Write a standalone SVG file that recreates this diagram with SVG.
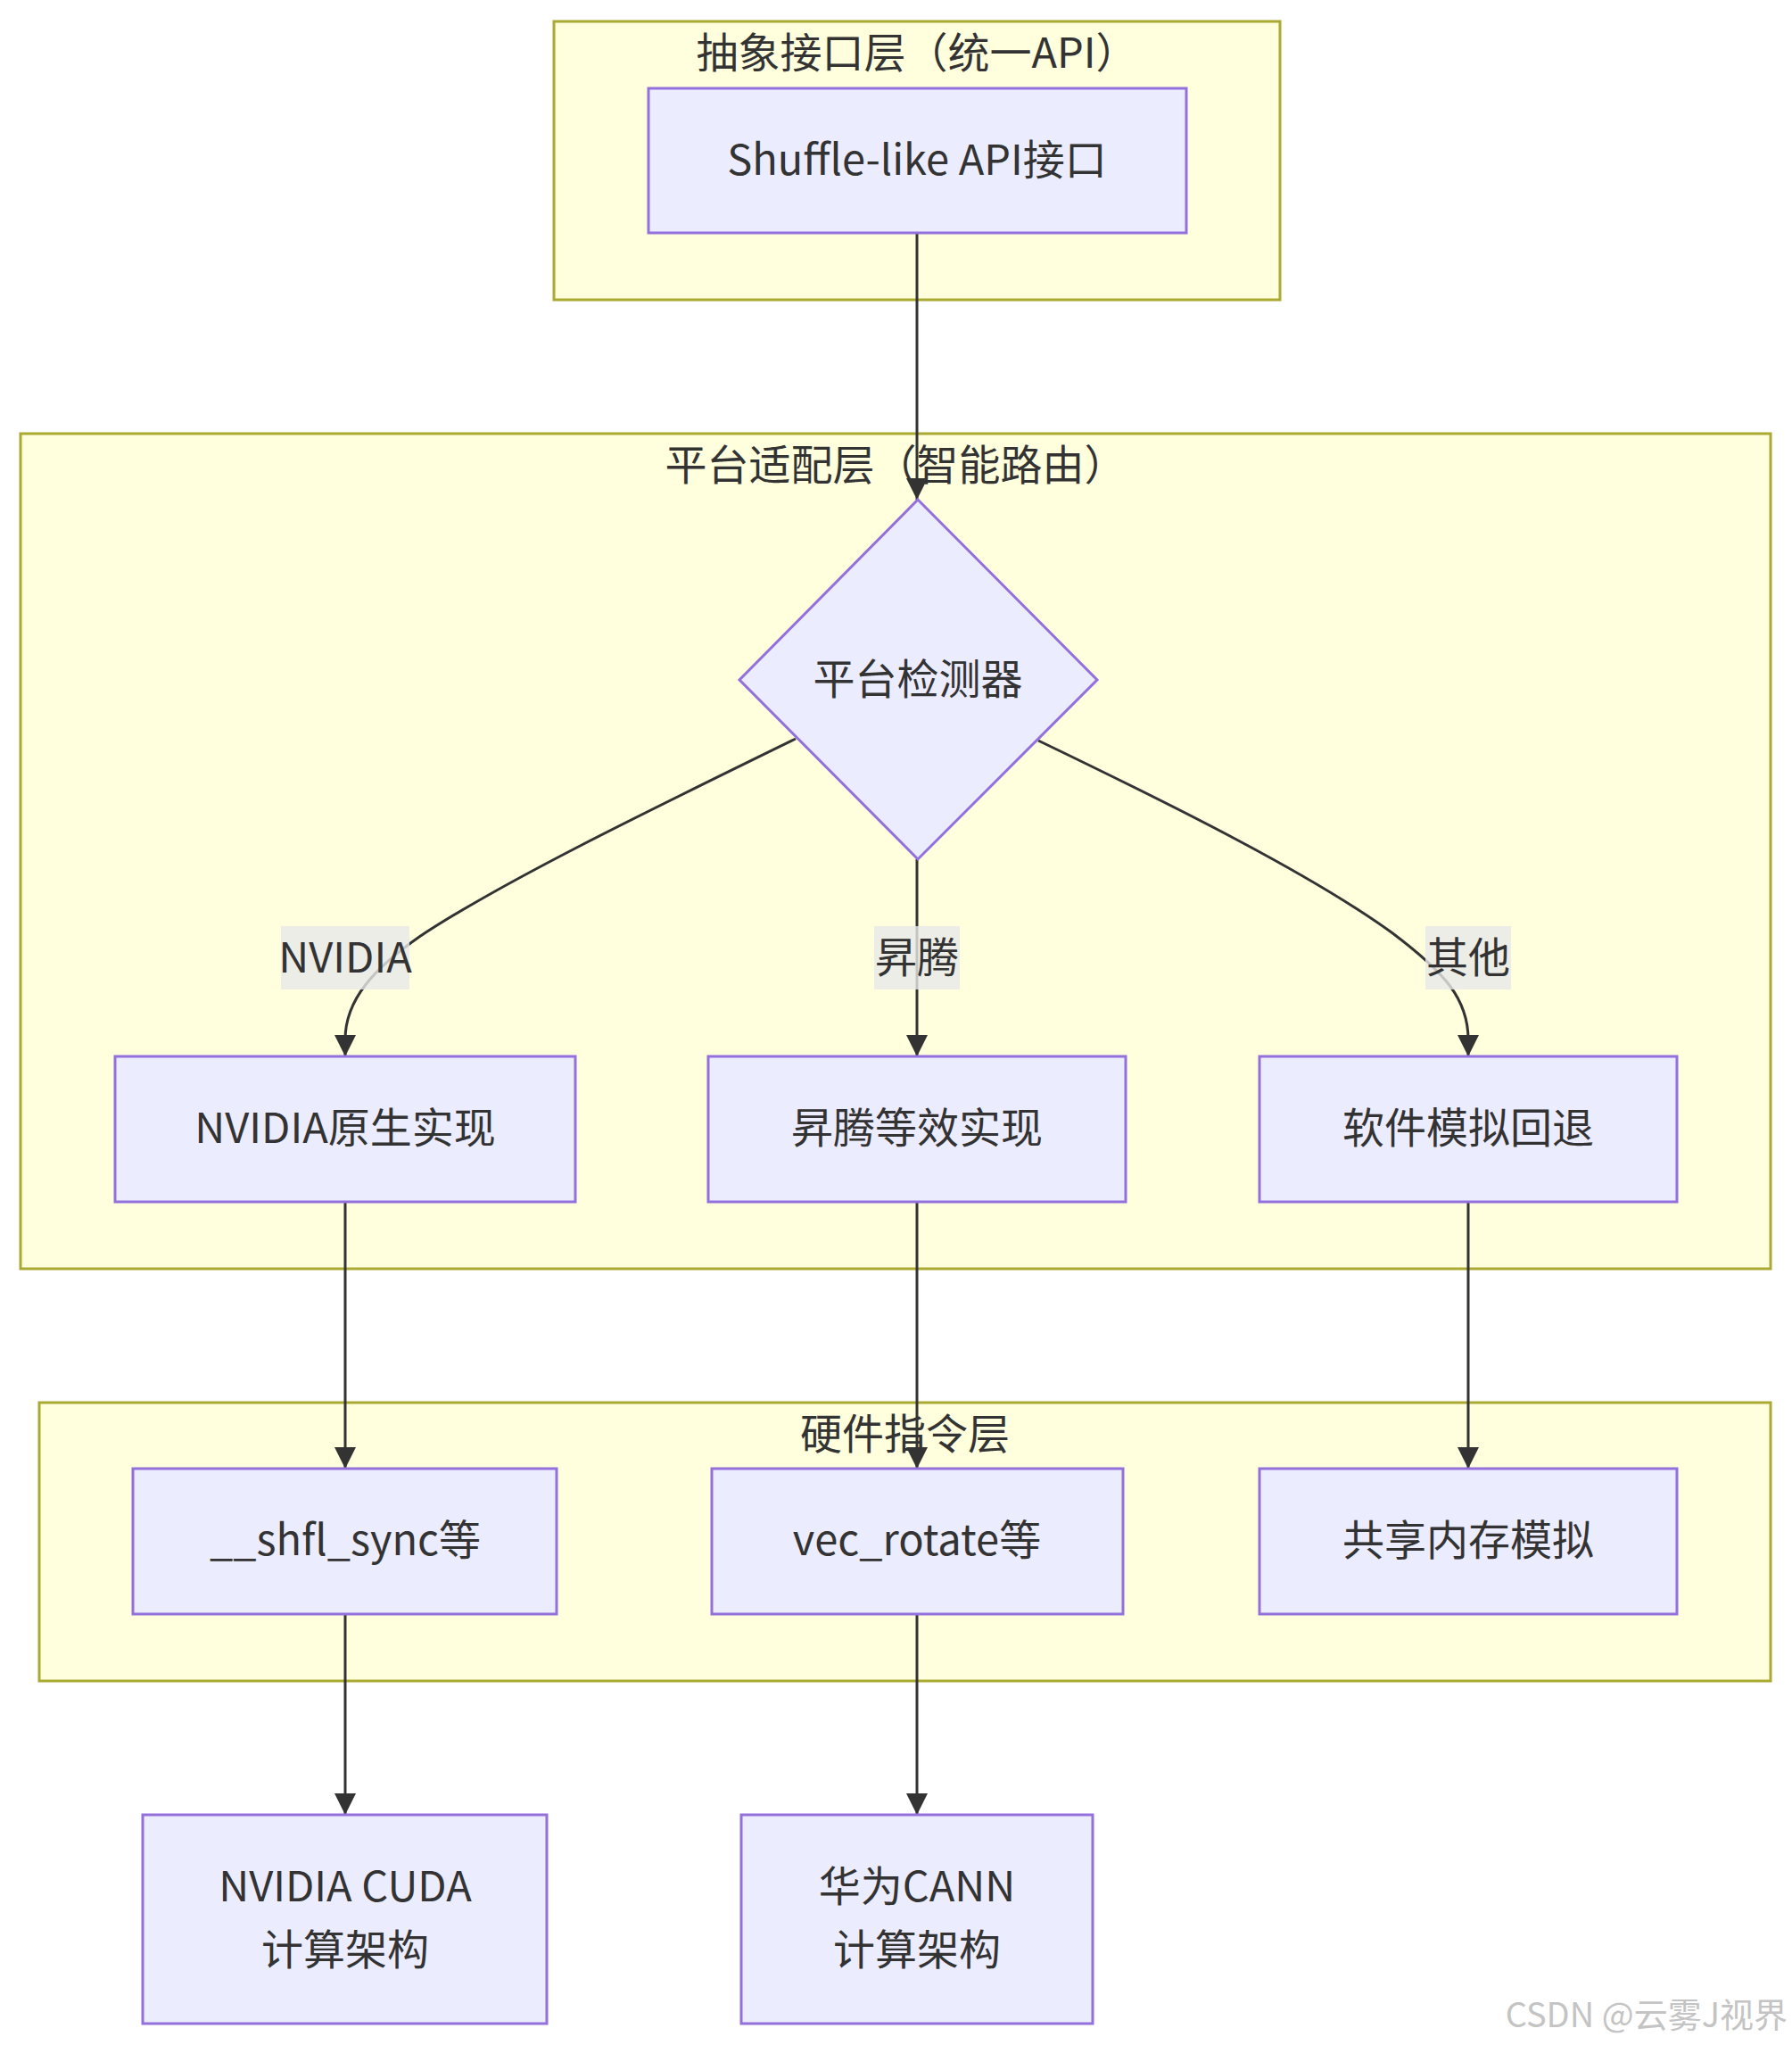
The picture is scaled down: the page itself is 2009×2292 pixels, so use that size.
<svg xmlns="http://www.w3.org/2000/svg" width="2009" height="2292" viewBox="0 0 2009 2292">
<style>
.cluster{fill:#ffffde;stroke:#aaaa33;stroke-width:3}
.node{fill:#ececff;stroke:#9370db;stroke-width:3}
.t{font-family:"Noto Sans CJK SC","Noto Sans",sans-serif;font-size:47px;fill:#333;text-anchor:middle;dominant-baseline:central}
.edge{fill:none;stroke:#333;stroke-width:3}
.lbl{fill:rgba(232,232,232,0.8)}
.wm{font-family:"Noto Sans CJK SC","Liberation Sans",sans-serif;font-size:38px;fill:#c4c4c4;text-anchor:end;dominant-baseline:central}
</style>
<defs>
<marker id="arrow" viewBox="0 0 10 10" refX="10" refY="5" markerUnits="userSpaceOnUse" markerWidth="24" markerHeight="24" orient="auto">
<path d="M0,0 L10,5 L0,10 z" fill="#333"/>
</marker>
</defs>
<rect width="2009" height="2292" fill="#ffffff"/>
<g id="cluster-abstract">
<rect class="cluster" x="621" y="24" width="814" height="312"/>
<text class="t" x="1028" y="55">抽象接口层（统一API）</text>
</g>
<g id="cluster-platform">
<rect class="cluster" x="23" y="486" width="1962" height="936"/>
<text class="t" x="1004" y="517">平台适配层（智能路由）</text>
</g>
<g id="cluster-hardware">
<rect class="cluster" x="44" y="1572" width="1941" height="312"/>
<text class="t" x="1014.5" y="1603">硬件指令层</text>
</g>
<g id="connectors">
<path class="edge" d="M1028,261 L1028,560" marker-end="url(#arrow)"/>
<path class="edge" d="M892,828 C720,912 560,990 470,1050 C420,1085 387,1120 387,1165 L387,1184" marker-end="url(#arrow)"/>
<path class="edge" d="M1028,963 L1028,1184" marker-end="url(#arrow)"/>
<path class="edge" d="M1164,830 C1320,905 1470,980 1560,1045 C1620,1090 1646,1120 1646,1165 L1646,1184" marker-end="url(#arrow)"/>
<path class="edge" d="M387,1347 L387,1646" marker-end="url(#arrow)"/>
<path class="edge" d="M1028,1347 L1028,1646" marker-end="url(#arrow)"/>
<path class="edge" d="M1646,1347 L1646,1646" marker-end="url(#arrow)"/>
<path class="edge" d="M387,1809 L387,2034" marker-end="url(#arrow)"/>
<path class="edge" d="M1028,1809 L1028,2034" marker-end="url(#arrow)"/>
<g id="label-nvidia">
<rect class="lbl" x="315" y="1038" width="144" height="71"/>
<text class="t" x="387" y="1069">NVIDIA</text>
</g>
<g id="label-ascend">
<rect class="lbl" x="980" y="1038" width="96" height="71"/>
<text class="t" x="1028" y="1069">昇腾</text>
</g>
<g id="label-other">
<rect class="lbl" x="1598" y="1038" width="96" height="71"/>
<text class="t" x="1646" y="1069">其他</text>
</g>
</g>
<g id="node-api">
<rect class="node" x="727" y="99" width="603" height="162"/>
<text class="t" x="1028" y="175">Shuffle-like API接口</text>
</g>
<g id="node-detector">
<polygon class="node" points="1029,560 1230,762 1029,963 829,762"/>
<text class="t" x="1029" y="757">平台检测器</text>
</g>
<g id="node-nvidia-impl">
<rect class="node" x="129" y="1184" width="516" height="163"/>
<text class="t" x="387" y="1260.5">NVIDIA原生实现</text>
</g>
<g id="node-ascend-impl">
<rect class="node" x="794" y="1184" width="468" height="163"/>
<text class="t" x="1028" y="1260.5">昇腾等效实现</text>
</g>
<g id="node-soft-impl">
<rect class="node" x="1412" y="1184" width="468" height="163"/>
<text class="t" x="1646" y="1260.5">软件模拟回退</text>
</g>
<g id="node-shfl">
<rect class="node" x="149" y="1646" width="475" height="163"/>
<text class="t" x="387" y="1722.5">__shfl_sync等</text>
</g>
<g id="node-vec">
<rect class="node" x="798" y="1646" width="461" height="163"/>
<text class="t" x="1028" y="1722.5">vec_rotate等</text>
</g>
<g id="node-shmem">
<rect class="node" x="1412" y="1646" width="468" height="163"/>
<text class="t" x="1646" y="1722.5">共享内存模拟</text>
</g>
<g id="node-cuda">
<rect class="node" x="160" y="2034" width="453" height="234"/>
<text class="t" x="387" y="2110">NVIDIA CUDA</text>
<text class="t" x="387" y="2181">计算架构</text>
</g>
<g id="node-cann">
<rect class="node" x="831" y="2034" width="394" height="234"/>
<text class="t" x="1028" y="2110">华为CANN</text>
<text class="t" x="1028" y="2181">计算架构</text>
</g>
<text class="wm" x="2004" y="2255">CSDN @云雾J视界</text>
</svg>
